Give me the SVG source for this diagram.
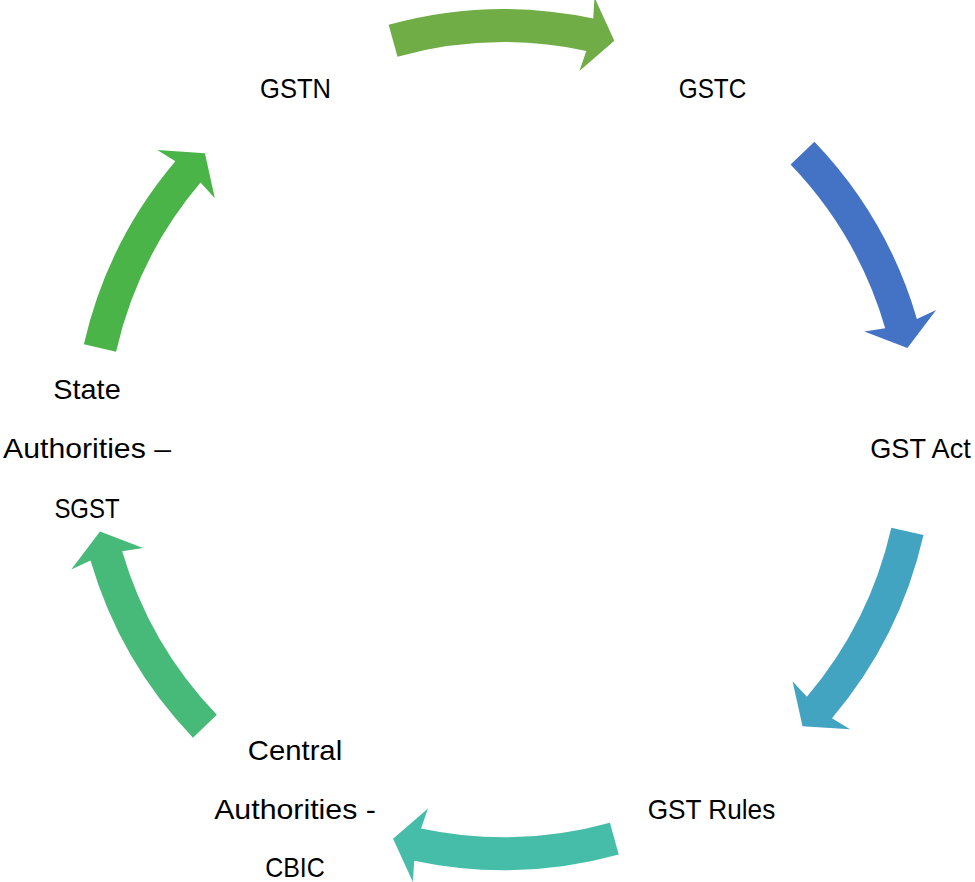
<svg xmlns="http://www.w3.org/2000/svg" width="975" height="882" viewBox="0 0 975 882">
  <style>
    .lbl { font-family: "Liberation Sans", Arial, sans-serif; font-size: 28px; fill: #000000; text-anchor: middle; }
  </style>
  <defs>
    <path id="arc-arrow" d="M 388.65 24.86 A 430.5 430.5 0 0 1 593.21 18.61 L 594.49 -2.58 L 614.34 40.76 L 579.41 70.89 L 586.34 50.89 A 397.5 397.5 0 0 0 397.47 56.66 Z"/>
  </defs>
  <rect width="975" height="882" fill="#ffffff"/>
  <g id="connectors">
    <use href="#arc-arrow" fill="#70AD47"/>
    <use href="#arc-arrow" fill="#4472C4" transform="rotate(61.7 503.7 439.7)"/>
    <use href="#arc-arrow" fill="#43A4C2" transform="rotate(118.3 503.7 439.7)"/>
    <use href="#arc-arrow" fill="#45BDA8" transform="rotate(180 503.7 439.7)"/>
    <use href="#arc-arrow" fill="#47B979" transform="rotate(241.7 503.7 439.7)"/>
    <use href="#arc-arrow" fill="#4AB449" transform="rotate(298.3 503.7 439.7)"/>
  </g>
  <g id="node-gstn">
    <text class="lbl" x="295.5" y="98" textLength="71" lengthAdjust="spacingAndGlyphs">GSTN</text>
  </g>
  <g id="node-gstc">
    <text class="lbl" x="712.5" y="98" textLength="67.5" lengthAdjust="spacingAndGlyphs">GSTC</text>
  </g>
  <g id="node-gst-act">
    <text class="lbl" x="920.5" y="458" textLength="100.5" lengthAdjust="spacingAndGlyphs">GST Act</text>
  </g>
  <g id="node-gst-rules">
    <text class="lbl" x="711.5" y="818.5" textLength="127.6" lengthAdjust="spacingAndGlyphs">GST Rules</text>
  </g>
  <g id="node-central">
    <text class="lbl" x="295" y="759.5" textLength="94.3" lengthAdjust="spacingAndGlyphs">Central</text>
    <text class="lbl" x="295" y="818.5" textLength="161.7" lengthAdjust="spacingAndGlyphs">Authorities -</text>
    <text class="lbl" x="295" y="876.5" textLength="59.6" lengthAdjust="spacingAndGlyphs">CBIC</text>
  </g>
  <g id="node-state">
    <text class="lbl" x="87" y="399.3" textLength="67.4" lengthAdjust="spacingAndGlyphs">State</text>
    <text class="lbl" x="87" y="458.3" textLength="167.9" lengthAdjust="spacingAndGlyphs">Authorities –</text>
    <text class="lbl" x="87" y="517.7" textLength="65.2" lengthAdjust="spacingAndGlyphs">SGST</text>
  </g>
</svg>
